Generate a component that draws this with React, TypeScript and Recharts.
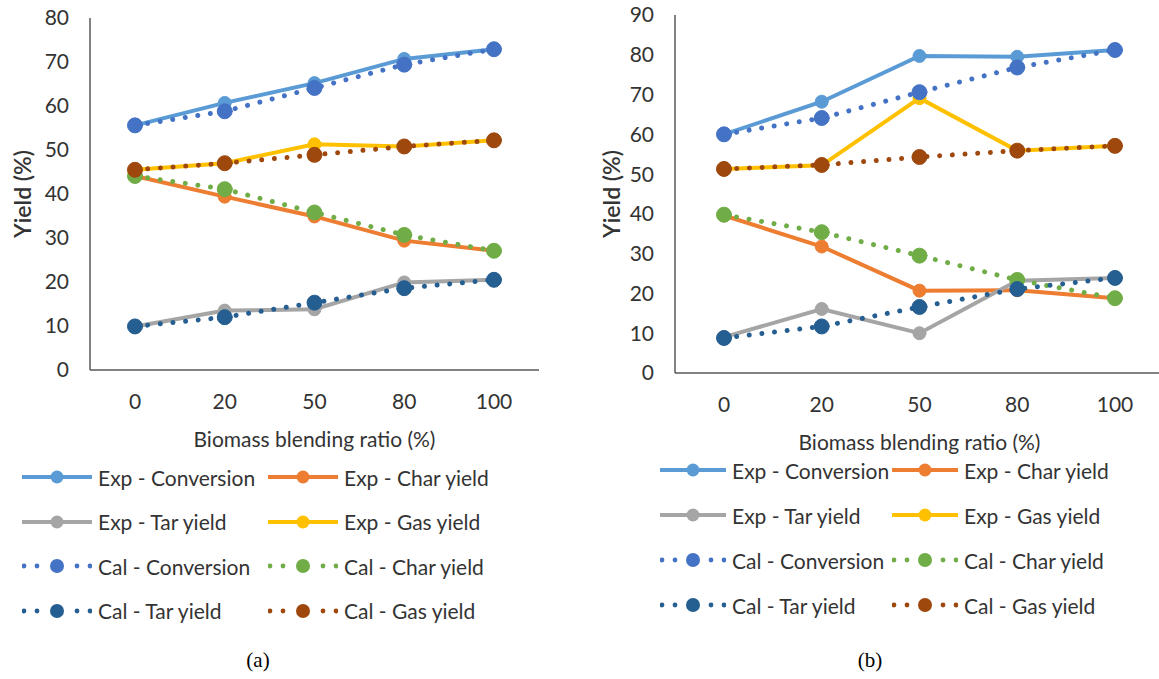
import React from 'react';
import { LineChart, Line, XAxis, YAxis } from 'recharts';

const RATIOS = ['0', '20', '50', '80', '100'];

// panel (a)
const expConversionA = [55.6, 60.7, 65.2, 70.7, 72.9];
const expCharA = [44.1, 39.4, 34.9, 29.4, 27.1];
const expTarA = [9.9, 13.5, 13.8, 19.9, 20.5];
const expGasA = [45.5, 47.0, 51.3, 50.8, 52.2];
const calConversionA = [55.6, 58.8, 64.1, 69.4, 72.9];
const calCharA = [44.1, 41.1, 35.8, 30.7, 27.1];
const calTarA = [9.9, 12.0, 15.3, 18.6, 20.5];
const calGasA = [45.5, 47.0, 48.9, 50.8, 52.2];

// panel (b)
const expConversionB = [60.0, 68.2, 79.7, 79.5, 81.2];
const expCharB = [39.6, 31.8, 20.7, 20.8, 18.8];
const expTarB = [9.0, 16.1, 10.0, 23.2, 23.9];
const expGasB = [51.3, 52.2, 69.1, 55.9, 57.1];
const calConversionB = [60.0, 64.1, 70.6, 76.8, 81.2];
const calCharB = [39.8, 35.4, 29.5, 23.4, 18.8];
const calTarB = [8.8, 11.7, 16.6, 21.1, 23.9];
const calGasB = [51.3, 52.3, 54.3, 55.9, 57.1];

const TICKS_A = [0, 10, 20, 30, 40, 50, 60, 70, 80];
const TICKS_B = [0, 10, 20, 30, 40, 50, 60, 70, 80, 90];

const SERIES = [
  { key: 'expConv', name: 'Exp - Conversion', color: '#5B9BD5', cal: false },
  { key: 'expChar', name: 'Exp - Char yield', color: '#ED7D31', cal: false },
  { key: 'expTar', name: 'Exp - Tar yield', color: '#A5A5A5', cal: false },
  { key: 'expGas', name: 'Exp - Gas yield', color: '#FFC000', cal: false },
  { key: 'calConv', name: 'Cal - Conversion', color: '#4472C4', cal: true },
  { key: 'calChar', name: 'Cal - Char yield', color: '#70AD47', cal: true },
  { key: 'calTar', name: 'Cal - Tar yield', color: '#255E91', cal: true },
  { key: 'calGas', name: 'Cal - Gas yield', color: '#9E480E', cal: true },
];

const FONT = 'Lato, "Open Sans", sans-serif';
const TEXT = '#333333';
const BORDER = '#595959';

const buildRows = (values: Record<string, number[]>) =>
  RATIOS.map((ratio, i) => {
    const row: any = { ratio };
    SERIES.forEach((s) => {
      row[s.key] = values[s.key][i];
    });
    return row;
  });

const rowsA = buildRows({
  expConv: expConversionA, expChar: expCharA, expTar: expTarA, expGas: expGasA,
  calConv: calConversionA, calChar: calCharA, calTar: calTarA, calGas: calGasA,
});
const rowsB = buildRows({
  expConv: expConversionB, expChar: expCharB, expTar: expTarB, expGas: expGasB,
  calConv: calConversionB, calChar: calCharB, calTar: calTarB, calGas: calGasB,
});

const XTitle = ({ viewBox }: any) => {
  if (!viewBox) return null;
  return (
    <text x={viewBox.x + viewBox.width / 2} y={viewBox.y + 77} textAnchor="middle"
      fill={TEXT} fontSize={21} fontFamily={FONT}>
      Biomass blending ratio (%)
    </text>
  );
};

const YTitle = ({ viewBox, dx }: any) => {
  if (!viewBox) return null;
  const x = viewBox.x + dx;
  const y = viewBox.y + viewBox.height / 2;
  return (
    <text x={x} y={y} transform={`rotate(-90, ${x}, ${y})`} textAnchor="middle" dominantBaseline="central"
      fill={TEXT} fontSize={23} fontWeight={600} fontFamily={FONT}>
      Yield (%)
    </text>
  );
};

const LegendBlock = ({ left, top, colStep, rowStep, iconW }: any) => (
  <div style={{ position: 'absolute', left, top }}>
    {SERIES.map((s, i) => {
      const col = i % 2;
      const row = Math.floor(i / 2);
      const mid = iconW / 2;
      return (
        <div key={s.key} style={{
          position: 'absolute', left: col * colStep, top: row * rowStep - 13, height: 26,
          display: 'flex', alignItems: 'center', whiteSpace: 'nowrap',
        }}>
          <svg width={iconW} height={20}>
            {s.cal ? (
              <g fill={s.color}>
                <circle cx={2} cy={10} r={2.4} />
                <circle cx={15} cy={10} r={2.4} />
                <circle cx={mid} cy={10} r={7} />
                <circle cx={iconW - 15} cy={10} r={2.4} />
                <circle cx={iconW - 2} cy={10} r={2.4} />
              </g>
            ) : (
              <g>
                <line x1={0} x2={iconW} y1={10} y2={10} stroke={s.color} strokeWidth={4} strokeLinecap="round" />
                <circle cx={mid} cy={10} r={6.5} fill={s.color} />
              </g>
            )}
          </svg>
          <span style={{ marginLeft: 6, fontSize: 21, color: TEXT, fontFamily: FONT }}>{s.name}</span>
        </div>
      );
    })}
  </div>
);

const Panel = ({ rows, ticks, left, width, top, bottom, pad, yTitleDx }: any) => (
  <div style={{ position: 'absolute', left, top: 0 }}>
    <LineChart width={width} height={460} data={rows} margin={{ top, right: 1, bottom, left: 0 }}>
      <XAxis dataKey="ratio" height={80} padding={{ left: pad, right: pad }} interval={0}
        axisLine={{ stroke: BORDER, strokeWidth: 1.5 }} tickLine={false} tickSize={0} tickMargin={24}
        tick={{ fill: TEXT, fontSize: 21, fontFamily: FONT }} label={<XTitle />} />
      <XAxis xAxisId="top" orientation="top" height={0} tick={false} tickLine={false}
        axisLine={{ stroke: BORDER, strokeWidth: 1.5 }} />
      <YAxis domain={[0, ticks[ticks.length - 1]]} ticks={ticks} width={90} interval={0}
        axisLine={{ stroke: BORDER, strokeWidth: 1.5 }} tickLine={false} tickSize={0} tickMargin={21}
        tick={{ fill: TEXT, fontSize: 21, fontFamily: FONT }} label={<YTitle dx={yTitleDx} />} />
      <YAxis yAxisId="right" orientation="right" width={0} tick={false} tickLine={false}
        axisLine={{ stroke: BORDER, strokeWidth: 1.5 }} />
      {SERIES.map((s) => (
        <Line key={s.key} type="linear" dataKey={s.key} name={s.name} stroke={s.color}
          strokeWidth={s.cal ? 5 : 4}
          strokeDasharray={s.cal ? '0.01 12.7' : undefined}
          strokeLinecap="round"
          dot={{ r: s.cal ? 7.5 : 6.5, fill: s.color, stroke: s.color, strokeWidth: 1, strokeDasharray: 'none' }}
          activeDot={false} isAnimationActive={false} />
      ))}
    </LineChart>
  </div>
);

export default function App() {
  return (
    <div style={{
      position: 'absolute', left: 0, top: 0, width: 1159, height: 679,
      overflow: 'hidden', background: '#fff',
    }}>
      <Panel rows={rowsA} ticks={TICKS_A} left={0} width={540} top={18} bottom={10} pad={45} yTitleDx={22} />
      <Panel rows={rowsB} ticks={TICKS_B} left={585} width={580} top={15} bottom={7} pad={49} yTitleDx={26} />
      <LegendBlock left={22} top={477} colStep={246} rowStep={44.5} iconW={70} />
      <LegendBlock left={660} top={470} colStep={232} rowStep={45} iconW={66} />
      <div style={{ position: 'absolute', left: 258, top: 660, transform: 'translate(-50%, -50%)', fontSize: 21, fontFamily: 'serif' }}>(a)</div>
      <div style={{ position: 'absolute', left: 870, top: 660, transform: 'translate(-50%, -50%)', fontSize: 21, fontFamily: 'serif' }}>(b)</div>
    </div>
  );
}
